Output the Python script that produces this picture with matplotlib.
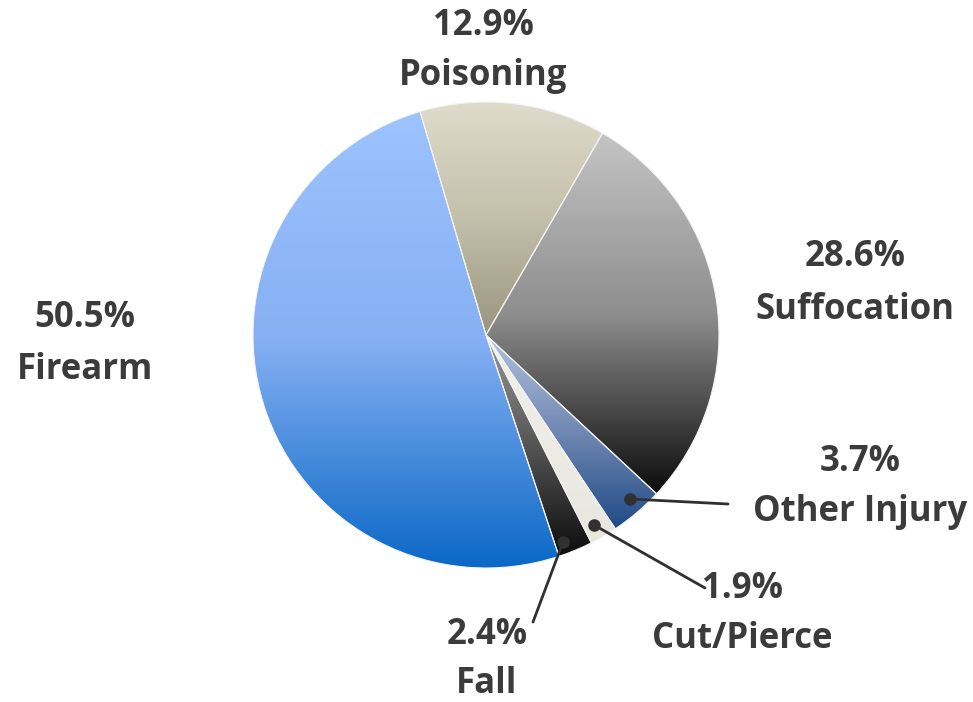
import matplotlib.pyplot as plt
import numpy as np
from matplotlib.colors import LinearSegmentedColormap

# data, clockwise from the Suffocation slice
labels = ["Suffocation", "Other Injury", "Cut/Pierce", "Fall", "Firearm", "Poisoning"]
shares = [28.6, 3.7, 1.9, 2.4, 50.5, 12.9]
# gradient colours (top, middle, bottom) for each slice
tops = ["#c4c4c4", "#b3c2de", "#f0efe9", "#9a9a9a", "#9dc3ff", "#dfdccc"]
mids = ["#8e8e8e", "#7088b2", "#ecebe5", "#555555", "#86b0f3", "#c4bfaa"]
bottoms = ["#0c0c0c", "#1f4a85", "#e8e7df", "#0d0d0d", "#0b68c6", "#9a957d"]

W, H = 973, 702
cx, cy, R = 486, 335, 233


def pix(px, py):
    # pixel position (from top-left) -> data coords of the pie
    return (px - cx) / R, (cy - py) / R


fig = plt.figure(figsize=(W / 100, H / 100), dpi=100)
ax = fig.add_axes([0, 0, 1, 1])

wedges, _ = ax.pie(shares, startangle=60, counterclock=False, radius=1,
                   wedgeprops=dict(linewidth=0.8, edgecolor="#f4f4f4"))

for w, c1, c2, c3 in zip(wedges, tops, mids, bottoms):
    w.set_facecolor("none")
    bb = w.get_path().get_extents(w.get_patch_transform())
    cmap = LinearSegmentedColormap.from_list("g", [(0, c1), (0.5, c2), (1, c3)])
    grad = np.linspace(0, 1, 256).reshape(-1, 1)
    im = ax.imshow(grad, cmap=cmap, aspect="auto", origin="upper",
                   extent=(bb.x0, bb.x1, bb.y0, bb.y1), zorder=1)
    im.set_clip_path(w)
    w.set_zorder(2)

ax.set_xlim(-cx / R, (W - cx) / R)
ax.set_ylim(-(H - cy) / R, cy / R)
ax.set_aspect("auto")
ax.axis("off")

# leader lines: dot on slice, line end near label
leaders = {
    "Other Injury": ((630, 499), (728, 504)),
    "Cut/Pierce": ((594, 525), (705, 588)),
    "Fall": ((563, 542), (533, 622)),
}
for name, (p0, p1) in leaders.items():
    x0, y0 = pix(*p0)
    x1, y1 = pix(*p1)
    ax.plot([x0, x1], [y0, y1], color="#303030", lw=2, zorder=3,
            solid_capstyle="round")
    ax.plot([x0], [y0], "o", color="#303030", ms=8, zorder=4)

# label positions: x centre, baseline of value, baseline of name (pixels)
label_pos = {
    "Poisoning": (483, 35, 85),
    "Firearm": (85, 327, 379),
    "Suffocation": (855, 266, 319),
    "Other Injury": (860, 471, 521),
    "Cut/Pierce": (742, 598, 648),
    "Fall": (487, 644, 693),
}
font = dict(fontsize=25, fontweight="bold", color="#3b3b3b", family="Open Sans",
            ha="center", va="baseline")
for name, val in zip(labels, shares):
    px, y1, y2 = label_pos[name]
    ax.text(*pix(px, y1), f"{val}%", **font)
    ax.text(*pix(px, y2), name, **font)

fig.savefig("out.png", dpi=100)
